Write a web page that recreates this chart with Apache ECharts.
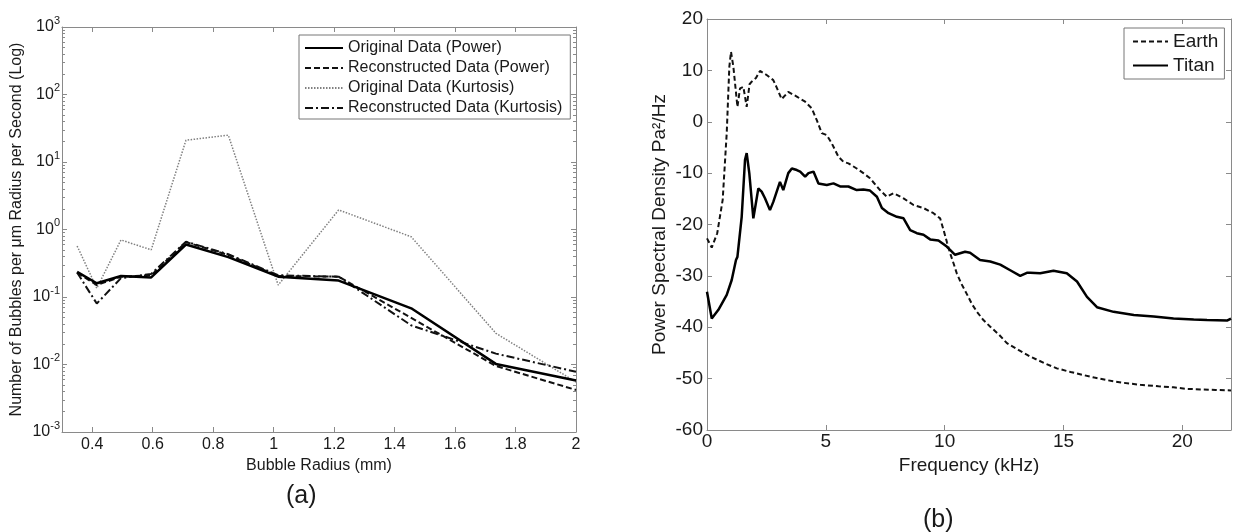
<!DOCTYPE html>
<html><head><meta charset="utf-8">
<script src="https://cdn.jsdelivr.net/npm/echarts@6/dist/echarts.min.js"></script>
<style>html,body{margin:0;padding:0;background:#fff}#c{width:1237px;height:532px}</style>
</head><body><div id="c"></div>
<script>
// ---------- Panel (a) data ----------
const radius      = [0.35, 0.415, 0.495, 0.595, 0.71, 0.85, 1.015, 1.215, 1.455, 1.735, 2.0];
const origPower   = [0.235, 0.16, 0.205, 0.195, 0.60, 0.39, 0.20, 0.175, 0.068, 0.0102, 0.0058];
const reconPower  = [0.23, 0.15, 0.20, 0.21, 0.65, 0.42, 0.205, 0.20, 0.049, 0.0095, 0.0042];
const origKurt    = [0.57, 0.135, 0.70, 0.50, 21, 25, 0.15, 1.95, 0.78, 0.029, 0.0055];
const reconKurt   = [0.23, 0.08, 0.19, 0.22, 0.66, 0.43, 0.21, 0.20, 0.038, 0.0145, 0.0078];
const radiusTicks = [0.4, 0.6, 0.8, 1, 1.2, 1.4, 1.6, 1.8, 2];
const decadeExps  = [-3, -2, -1, 0, 1, 2];
const minorMult   = [2, 3, 4, 5, 6, 7, 8, 9];

// ---------- Panel (b) data ----------
const earthFreq = [0, 0.2, 0.43, 0.66, 0.83, 0.94, 1.01, 1.11, 1.28, 1.39, 1.53, 1.67, 1.79, 1.88, 2.06, 2.23, 2.51, 2.79, 2.93, 3.14, 3.42, 3.78, 4.13, 4.41, 4.62, 4.83, 5.04, 5.25, 5.53, 5.74, 5.95, 6.3, 6.58, 6.86, 7.28, 7.57, 7.85, 8.27, 8.69, 9.11, 9.53, 9.81, 9.95, 10.1, 10.23, 10.37, 10.51, 10.7, 10.93, 11.15, 11.36, 11.63, 11.92, 12.3, 12.62, 13.1, 13.6, 14.2, 14.72, 15.3, 15.84, 16.3, 16.83, 17.5, 18.23, 19.0, 19.63, 20.2, 20.76, 21.4, 22.05];
const earthPsd  = [-22.7, -24.5, -21.7, -15.2, -2.2, 10.7, 13.6, 10.7, 2.9, 6.5, 6.8, 2.9, 7.3, 7.8, 8.5, 9.9, 9.1, 8.1, 6.7, 4.4, 5.8, 4.9, 3.9, 2.6, 0.3, -2.2, -2.6, -4.2, -6.8, -7.8, -8.1, -9.1, -10, -11, -13.3, -14.6, -13.9, -14.9, -16.2, -16.8, -17.8, -18.8, -21, -23.5, -25.6, -27.5, -29.5, -31.5, -33.5, -35.5, -37, -38.6, -39.9, -41.5, -43.1, -44.4, -45.7, -47, -48.0, -48.7, -49.3, -49.8, -50.3, -50.8, -51.2, -51.5, -51.7, -52, -52.1, -52.2, -52.3];
const titanFreq = [0, 0.2, 0.48, 0.83, 1.04, 1.22, 1.28, 1.46, 1.6, 1.67, 1.78, 1.95, 2.02, 2.16, 2.3, 2.44, 2.65, 2.79, 3.07, 3.21, 3.42, 3.57, 3.78, 3.92, 4.13, 4.27, 4.48, 4.69, 5.04, 5.32, 5.6, 5.95, 6.3, 6.58, 6.86, 7.15, 7.36, 7.64, 7.99, 8.27, 8.55, 8.83, 9.11, 9.39, 9.74, 10.09, 10.44, 10.65, 10.86, 11.07, 11.49, 11.92, 12.34, 12.76, 13.18, 13.46, 13.6, 14.02, 14.58, 15.14, 15.57, 15.99, 16.41, 17.11, 17.96, 18.8, 19.63, 20.48, 21.04, 21.88, 22.05];
const titanPsd  = [-33.1, -38.3, -36.6, -33.7, -30.8, -26.9, -26.3, -18.5, -7.4, -6.1, -10, -18.8, -19.1, -13, -13.6, -14.9, -17.2, -15.6, -11.7, -13.3, -10, -9.1, -9.4, -9.7, -10.7, -10, -9.7, -12, -12.3, -12, -12.6, -12.6, -13.3, -13.2, -13.4, -14.6, -16.8, -17.8, -18.5, -18.8, -21.1, -21.7, -22, -22.9, -23.1, -24.3, -25.9, -25.6, -25.3, -25.5, -26.9, -27.2, -27.8, -28.9, -30, -29.4, -29.4, -29.5, -29, -29.5, -31.1, -34.1, -36.1, -37, -37.6, -37.9, -38.3, -38.5, -38.6, -38.7, -38.3];
const freqTicks = [0, 5, 10, 15, 20];

// ---------- helpers ----------
const FONT = '"Liberation Sans", Arial, sans-serif';
const AX = '#8a8a8a';
const TXT = '#1a1a1a';
const pairs = (xs, ys) => xs.map((x, i) => [x, ys[i]]);
const minorLog = [];
decadeExps.forEach(e => minorMult.forEach(m => minorLog.push(e + Math.log10(m))));

const axLine = {show: true, onZero: false, lineStyle: {color: AX, width: 1}};
const noLine = {show: false, onZero: false};
const noSplit = {show: false};

const chart = echarts.init(document.getElementById('c'), null, {renderer: 'canvas'});
chart.setOption({
  animation: false,
  backgroundColor: '#fff',
  textStyle: {fontFamily: FONT},
  title: [
    {text: '(a)', left: 286, top: 484, padding: 0, textStyle: {fontFamily: FONT, fontSize: 25, fontWeight: 'normal', color: TXT}},
    {text: '(b)', left: 923, top: 508, padding: 0, textStyle: {fontFamily: FONT, fontSize: 25, fontWeight: 'normal', color: TXT}}
  ],
  grid: [
    {left: 62, top: 27, width: 514, height: 405},
    {left: 707, top: 19, width: 524, height: 411}
  ],
  legend: [
    {
      orient: 'vertical', left: 299, top: 35, padding: [5, 8, 3, 5],
      itemWidth: 38, itemHeight: 14, itemGap: 4,
      borderColor: '#777', borderWidth: 1, backgroundColor: '#fff',
      itemStyle: {opacity: 0},
      textStyle: {fontFamily: FONT, fontSize: 16, color: TXT},
      data: ['Original Data (Power)', 'Reconstructed Data (Power)', 'Original Data (Kurtosis)', 'Reconstructed Data (Kurtosis)']
    },
    {
      orient: 'vertical', left: 1124, top: 28, padding: [4, 6, 4, 8],
      itemWidth: 35, itemHeight: 14, itemGap: 5,
      borderColor: '#777', borderWidth: 1, backgroundColor: '#fff',
      itemStyle: {opacity: 0},
      textStyle: {fontFamily: FONT, fontSize: 19, color: TXT},
      data: ['Earth', 'Titan']
    }
  ],
  xAxis: [
    {
      gridIndex: 0, type: 'value', min: 0.3, max: 2, position: 'bottom',
      axisLine: axLine, splitLine: noSplit,
      axisTick: {inside: true, length: 5, lineStyle: {color: AX}, customValues: radiusTicks},
      axisLabel: {customValues: radiusTicks, margin: 5, fontSize: 16, color: TXT, fontFamily: FONT,
        formatter: v => String(+(+v).toFixed(1))},
      name: 'Bubble Radius (mm)', nameLocation: 'middle', nameGap: 23,
      nameTextStyle: {fontSize: 16, color: TXT, fontFamily: FONT}
    },
    {
      gridIndex: 0, type: 'value', min: 0.3, max: 2, position: 'top',
      axisLine: axLine, splitLine: noSplit,
      axisTick: {inside: true, length: 5, lineStyle: {color: AX}, customValues: radiusTicks},
      axisLabel: {show: false}
    },
    {
      gridIndex: 1, type: 'value', min: 0, max: 22.05, position: 'bottom',
      axisLine: axLine, splitLine: noSplit,
      axisTick: {inside: true, length: 5, lineStyle: {color: AX}, customValues: freqTicks},
      axisLabel: {customValues: freqTicks, margin: 2, fontSize: 19, color: TXT, fontFamily: FONT},
      name: 'Frequency (kHz)', nameLocation: 'middle', nameGap: 26,
      nameTextStyle: {fontSize: 19, color: TXT, fontFamily: FONT}
    },
    {
      gridIndex: 1, type: 'value', min: 0, max: 22.05, position: 'top',
      axisLine: axLine, splitLine: noSplit,
      axisTick: {inside: true, length: 5, lineStyle: {color: AX}, customValues: freqTicks},
      axisLabel: {show: false}
    }
  ],
  yAxis: [
    {
      gridIndex: 0, type: 'log', logBase: 10, min: 0.001, max: 1000, position: 'left',
      axisLine: axLine, splitLine: noSplit,
      axisTick: {inside: true, length: 5, lineStyle: {color: AX}},
      axisLabel: {
        margin: 2, color: TXT, fontFamily: FONT,
        formatter: v => '{b|10}{s|' + Math.round(Math.log10(v)) + '}',
        rich: {
          b: {fontSize: 16, lineHeight: 24, color: TXT, fontFamily: FONT},
          s: {fontSize: 11, lineHeight: 9, verticalAlign: 'top', color: TXT, fontFamily: FONT}
        }
      },
      name: 'Number of Bubbles per μm Radius per Second (Log)', nameLocation: 'middle', nameGap: 37,
      nameTextStyle: {fontSize: 16, color: TXT, fontFamily: FONT}
    },
    {
      gridIndex: 0, type: 'log', logBase: 10, min: 0.001, max: 1000, position: 'right',
      axisLine: axLine, splitLine: noSplit,
      axisTick: {inside: true, length: 5, lineStyle: {color: AX}},
      axisLabel: {show: false}
    },
    {
      gridIndex: 0, type: 'value', min: -3, max: 3, position: 'left',
      axisLine: noLine, splitLine: noSplit,
      axisTick: {inside: true, length: 3, lineStyle: {color: AX}, customValues: minorLog},
      axisLabel: {show: false}
    },
    {
      gridIndex: 0, type: 'value', min: -3, max: 3, position: 'right',
      axisLine: noLine, splitLine: noSplit,
      axisTick: {inside: true, length: 3, lineStyle: {color: AX}, customValues: minorLog},
      axisLabel: {show: false}
    },
    {
      gridIndex: 1, type: 'value', min: -60, max: 20, interval: 10, position: 'left',
      axisLine: axLine, splitLine: noSplit,
      axisTick: {inside: true, length: 5, lineStyle: {color: AX}},
      axisLabel: {margin: 4, fontSize: 19, color: TXT, fontFamily: FONT},
      name: 'Power Spectral Density Pa²/Hz', nameLocation: 'middle', nameGap: 38,
      nameTextStyle: {fontSize: 19, color: TXT, fontFamily: FONT}
    },
    {
      gridIndex: 1, type: 'value', min: -60, max: 20, interval: 10, position: 'right',
      axisLine: axLine, splitLine: noSplit,
      axisTick: {inside: true, length: 5, lineStyle: {color: AX}},
      axisLabel: {show: false}
    }
  ],
  series: [
    {
      name: 'Original Data (Kurtosis)', type: 'line', xAxisIndex: 0, yAxisIndex: 0, symbol: 'none',
      data: pairs(radius, origKurt), z: 2,
      lineStyle: {color: '#808080', width: 1.5, type: [1.5, 1.5]}, itemStyle: {color: '#808080'}
    },
    {
      name: 'Reconstructed Data (Kurtosis)', type: 'line', xAxisIndex: 0, yAxisIndex: 0, symbol: 'none',
      data: pairs(radius, reconKurt), z: 3,
      lineStyle: {color: '#111', width: 2, type: [8, 3, 2, 3]}, itemStyle: {color: '#111'}
    },
    {
      name: 'Reconstructed Data (Power)', type: 'line', xAxisIndex: 0, yAxisIndex: 0, symbol: 'none',
      data: pairs(radius, reconPower), z: 4,
      lineStyle: {color: '#111', width: 2, type: [6, 3]}, itemStyle: {color: '#111'}
    },
    {
      name: 'Original Data (Power)', type: 'line', xAxisIndex: 0, yAxisIndex: 0, symbol: 'none',
      data: pairs(radius, origPower), z: 5,
      lineStyle: {color: '#000', width: 2.5, type: 'solid'}, itemStyle: {color: '#000'}
    },
    {
      name: 'Earth', type: 'line', xAxisIndex: 2, yAxisIndex: 4, symbol: 'none',
      data: pairs(earthFreq, earthPsd),
      lineStyle: {color: '#111', width: 2, type: [5, 3]}, itemStyle: {color: '#111'}
    },
    {
      name: 'Titan', type: 'line', xAxisIndex: 2, yAxisIndex: 4, symbol: 'none',
      data: pairs(titanFreq, titanPsd),
      lineStyle: {color: '#000', width: 2.5, type: 'solid'}, itemStyle: {color: '#000'}
    }
  ]
});
</script>
</body></html>
